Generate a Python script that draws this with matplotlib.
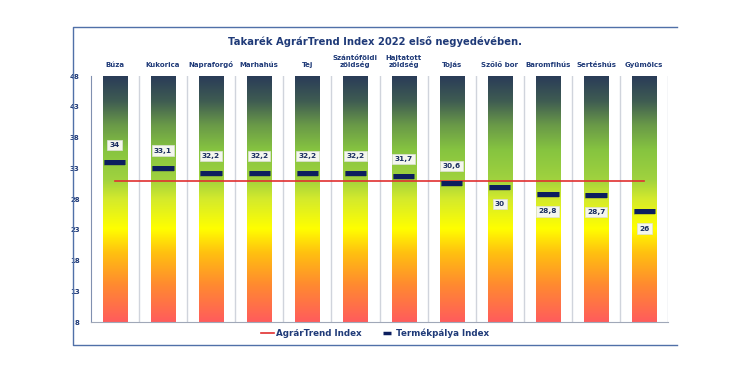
import numpy as np
import matplotlib.pyplot as plt
from matplotlib.colors import LinearSegmentedColormap
from matplotlib.lines import Line2D

categories = ['Búza', 'Kukorica', 'Napraforgó', 'Marhahús', 'Tej', 'Szántóföldi\nzöldség',
              'Hajtatott\nzöldség', 'Tojás', 'Szőlő bor', 'Baromfihús', 'Sertéshús', 'Gyümölcs']
termekpalya = [34, 33.1, 32.2, 32.2, 32.2, 32.2, 31.7, 30.6, 30, 28.8, 28.7, 26]
agrartrend = 31
yticks = [8, 13, 18, 23, 28, 33, 38, 43, 48]

navy = '#1f3a78'
grad = LinearSegmentedColormap.from_list('g', [
    (0.0, '#ff5c5c'), (0.15, '#ff8a30'), (0.28, '#ffc010'), (0.38, '#ffff00'),
    (0.50, '#d4ea2c'), (0.58, '#a0d23e'), (0.70, '#86c440'), (0.80, '#6a9a48'),
    (0.90, '#3f5c52'), (1.0, '#2a3c58')])

fig = plt.figure(figsize=(7.5, 3.75), dpi=100)
ax = fig.add_axes([0.121, 0.141, 0.770, 0.656])

x = np.arange(len(categories))
ramp = np.linspace(0, 1, 256).reshape(-1, 1)
for i in x:
    ax.imshow(ramp, cmap=grad, origin='lower', aspect='auto',
              extent=[i - 0.25, i + 0.25, 8, 48], zorder=1)
for i in range(1, len(categories) + 1):
    ax.axvline(i - 0.5, color='#d0d4dc', lw=1, zorder=0.5)

ax.plot([0, len(categories) - 1], [agrartrend, agrartrend], color='#e03030', lw=1.2, zorder=3)

for i, v in zip(x, termekpalya):
    ax.plot([i - 0.22, i + 0.22], [v - 0.15, v - 0.15], color='#334', lw=4,
            alpha=0.3, solid_capstyle='butt', zorder=3.5)
    ax.plot([i - 0.22, i + 0.22], [v, v], color='#0c1e5e', lw=3.6,
            solid_capstyle='butt', zorder=4)
    lbl = f'{v:g}'.replace('.', ',')
    ly = v + 2.8 if v > 30.3 else v - 2.8
    ax.text(i, ly, lbl, ha='center', va='center', fontsize=5.3, fontweight='bold',
            color='#1a2e60', zorder=5,
            bbox=dict(boxstyle='square,pad=0.3', fc='#f4f6ee', ec='#dde0d8', lw=0.5))

for i, c in zip(x, categories):
    ax.text(i, 49.3, c, ha='center', va='bottom', fontsize=5, fontweight='bold',
            color=navy, linespacing=1.0)

ax.set_xlim(-0.5, len(categories) - 0.5)
ax.set_ylim(8, 48)
ax.set_yticks(yticks)
ax.set_yticklabels([str(t) for t in yticks], fontsize=5, color=navy, fontweight='bold')
ax.set_xticks([])
ax.tick_params(axis='y', length=0, pad=8)
for s in ['top', 'right']:
    ax.spines[s].set_visible(False)
ax.spines['left'].set_color('#8090b0')
ax.spines['bottom'].set_color('#a0a8b8')

fig.text(0.5, 0.89, 'Takarék AgrárTrend Index 2022 első negyedévében.', ha='center',
         va='center', fontsize=7.2, fontweight='bold', color=navy)

# frame: top, left, bottom only
fig.add_artist(Line2D([0.902, 0.097, 0.097, 0.902], [0.928, 0.928, 0.08, 0.08],
                      color='#5070a8', lw=1, transform=fig.transFigure))

handles = [Line2D([], [], color='#e03030', lw=1.2),
           Line2D([], [], color='#0c1e5e', marker='_', linestyle='none',
                  markersize=6, markeredgewidth=2.5)]
leg = fig.legend(handles, ['AgrárTrend Index', 'Termékpálya Index'], loc='center',
                 bbox_to_anchor=(0.5, 0.112), ncol=2, frameon=False, fontsize=6.3,
                 handlelength=1.5, columnspacing=2.2, handletextpad=0.2)
for t in leg.get_texts():
    t.set_color(navy)
    t.set_fontweight('bold')

fig.savefig('out.png', dpi=100, facecolor='white')
